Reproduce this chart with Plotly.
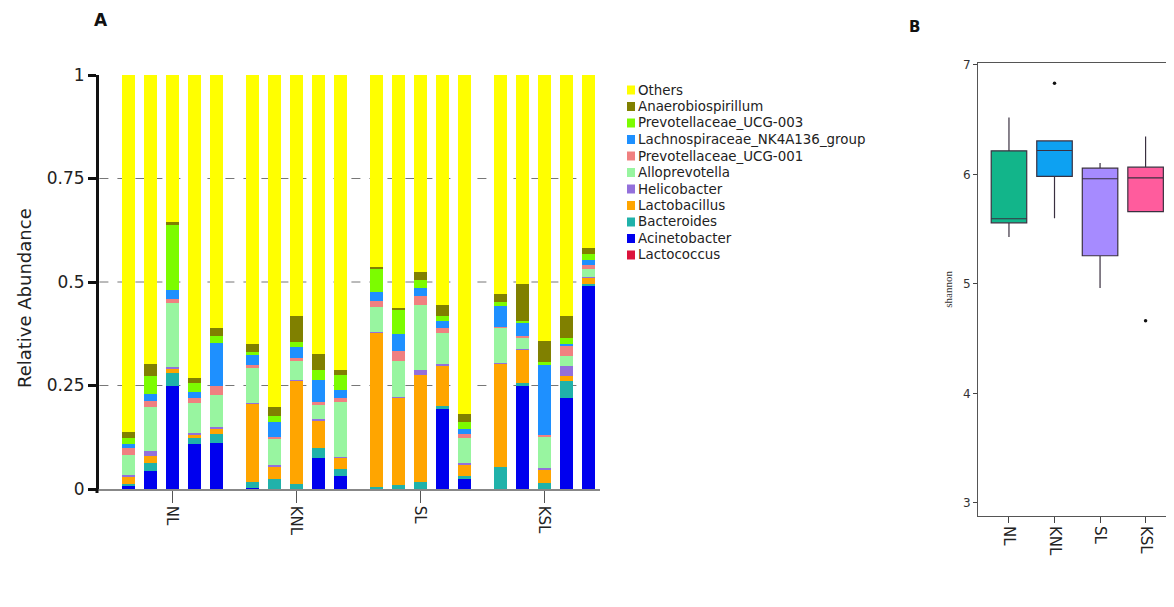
import plotly.graph_objects as go

W, H = 1174, 607

# ---------------- data ----------------
groups = ["NL", "KNL", "SL", "KSL"]
n_per_group = 5

taxa = ["Lactococcus", "Acinetobacter", "Bacteroides", "Lactobacillus", "Helicobacter",
        "Alloprevotella", "Prevotellaceae_UCG-001", "Lachnospiraceae_NK4A136_group",
        "Prevotellaceae_UCG-003", "Anaerobiospirillum", "Others"]

lactococcus = [0.001] * 20
acinetobacter = [0.006, 0.043, 0.248, 0.107, 0.111, 0.002, 0.000, 0.000, 0.075, 0.031,
                 0.000, 0.000, 0.000, 0.192, 0.022, 0.000, 0.248, 0.000, 0.220, 0.490]
bacteroides = [0.006, 0.020, 0.032, 0.016, 0.020, 0.014, 0.022, 0.012, 0.024, 0.016,
               0.003, 0.008, 0.016, 0.008, 0.008, 0.051, 0.008, 0.014, 0.040, 0.005]
lactobacillus = [0.018, 0.016, 0.008, 0.008, 0.012, 0.189, 0.032, 0.248, 0.064, 0.028,
                 0.373, 0.211, 0.259, 0.097, 0.028, 0.250, 0.080, 0.032, 0.012, 0.014]
helicobacter = [0.004, 0.012, 0.005, 0.003, 0.005, 0.002, 0.002, 0.003, 0.005, 0.002,
                0.002, 0.002, 0.012, 0.003, 0.003, 0.002, 0.002, 0.003, 0.024, 0.002]
alloprevotella = [0.048, 0.105, 0.155, 0.072, 0.079, 0.085, 0.064, 0.044, 0.034, 0.133,
                  0.060, 0.088, 0.157, 0.076, 0.060, 0.085, 0.028, 0.076, 0.024, 0.020]
prevotellaceae_ucg001 = [0.016, 0.016, 0.010, 0.012, 0.020, 0.006, 0.004, 0.008, 0.008, 0.010,
                         0.016, 0.024, 0.020, 0.012, 0.012, 0.003, 0.003, 0.004, 0.024, 0.010]
lachnospiraceae = [0.010, 0.016, 0.022, 0.016, 0.105, 0.024, 0.036, 0.028, 0.052, 0.018,
                   0.020, 0.040, 0.020, 0.016, 0.012, 0.049, 0.032, 0.169, 0.005, 0.012]
prevotellaceae_ucg003 = [0.014, 0.044, 0.157, 0.020, 0.016, 0.008, 0.016, 0.012, 0.024, 0.036,
                         0.056, 0.060, 0.020, 0.012, 0.016, 0.011, 0.003, 0.008, 0.015, 0.014]
anaerobiospirillum = [0.014, 0.028, 0.008, 0.012, 0.020, 0.019, 0.020, 0.063, 0.040, 0.012,
                      0.006, 0.003, 0.019, 0.028, 0.020, 0.020, 0.090, 0.051, 0.052, 0.014]
others = [0.863, 0.699, 0.354, 0.733, 0.611, 0.650, 0.803, 0.581, 0.673, 0.713,
          0.463, 0.563, 0.476, 0.555, 0.818, 0.528, 0.505, 0.642, 0.583, 0.418]

series = [lactococcus, acinetobacter, bacteroides, lactobacillus, helicobacter,
          alloprevotella, prevotellaceae_ucg001, lachnospiraceae, prevotellaceae_ucg003,
          anaerobiospirillum, others]

taxa_colors = ["#DC143C", "#0000EE", "#20B2AA", "#FFA500", "#9370DB", "#98F5A0",
               "#F08080", "#1E90FF", "#7CFC00", "#808000", "#FFFF00"]

y_ticks = [0, 0.25, 0.5, 0.75, 1]
y_ticktext = ["0", "0.25", "0.5", "0.75", "1"]
grid_levels = [0.25, 0.5, 0.75]

# shannon box statistics
box_groups = ["NL", "KNL", "SL", "KSL"]
box_q1 = [5.558, 5.981, 5.257, 5.659]
box_median = [5.595, 6.218, 5.960, 5.969]
box_q3 = [6.215, 6.306, 6.057, 6.066]
box_lower = [5.427, 5.600, 4.962, 5.659]
box_upper = [6.520, 6.306, 6.103, 6.346]
outlier_groups = ["KNL", "KSL"]
outlier_values = [6.833, 4.664]
box_colors = ["#12B58A", "#0DA1F2", "#A68BFF", "#FF5C9D"]
shannon_ticks = [3, 4, 5, 6, 7]

# ---------------- layout helpers ----------------
OFF = 8  # page body margin of the html page

def px_x(p):
    return (p - OFF) / W

def px_y(p):
    return 1 - (p - OFF) / H

GROUP_STEP = 5.64
xpos = [g * GROUP_STEP + j for g in range(len(groups)) for j in range(n_per_group)]
group_centers = [g * GROUP_STEP + (n_per_group - 1) / 2 for g in range(len(groups))]

fig = go.Figure()

for name, vals, col in zip(taxa, series, taxa_colors):
    fig.add_trace(go.Bar(
        x=xpos, y=vals, name=name, width=0.59,
        marker=dict(color=col, line=dict(width=0)),
        xaxis="x", yaxis="y", showlegend=False,
    ))

for g, q1, med, q3, lo, up, col in zip(box_groups, box_q1, box_median, box_q3,
                                       box_lower, box_upper, box_colors):
    fig.add_trace(go.Box(
        x=[g], q1=[q1], median=[med], q3=[q3], lowerfence=[lo], upperfence=[up],
        fillcolor=col, line=dict(color="#3a3040", width=1.2), whiskerwidth=0,
        width=0.78, showlegend=False, xaxis="x2", yaxis="y2", hoverinfo="skip",
    ))

fig.add_trace(go.Scatter(
    x=outlier_groups, y=outlier_values, mode="markers",
    marker=dict(color="#111111", size=3.5), showlegend=False,
    xaxis="x2", yaxis="y2",
))

shapes = []
for lv in grid_levels:
    shapes.append(dict(type="line", xref="x", yref="y", x0=-1.3, x1=21.4, y0=lv, y1=lv,
                       line=dict(color="#777777", width=1, dash="dash"), layer="below"))
# small downward extension of the y-axis line below zero
shapes.append(dict(type="line", xref="paper", yref="paper",
                   x0=px_x(97), x1=px_x(97), y0=px_y(489), y1=px_y(493),
                   line=dict(color="#111111", width=3)))

# manual legend (top entry = last stacked series)
annotations = []
LEG_X, LEG_Y0, LEG_STEP, LEG_BW, LEG_BH = 627, 90, 16.5, 8, 9
for i, k in enumerate(reversed(range(len(taxa)))):
    yc = LEG_Y0 + i * LEG_STEP
    shapes.append(dict(type="rect", xref="paper", yref="paper",
                       x0=px_x(LEG_X), x1=px_x(LEG_X + LEG_BW),
                       y0=px_y(yc + LEG_BH / 2), y1=px_y(yc - LEG_BH / 2),
                       fillcolor=taxa_colors[k], line=dict(width=0)))
    annotations.append(dict(text=taxa[k], x=px_x(LEG_X + LEG_BW + 1), y=px_y(yc),
                            xref="paper", yref="paper", xanchor="left", yanchor="middle",
                            showarrow=False, font=dict(size=13.4, color="#222222")))

annotations += [
    dict(text="<b>A</b>", x=px_x(101), y=px_y(20), xref="paper", yref="paper",
         xanchor="center", yanchor="middle",
         showarrow=False, font=dict(size=17, color="#111111")),
    dict(text="<b>B</b>", x=px_x(914), y=px_y(27), xref="paper", yref="paper",
         xanchor="center", yanchor="middle",
         showarrow=False, font=dict(size=15, color="#111111")),
    dict(text="Relative Abundance", x=px_x(24), y=px_y(298), xref="paper", yref="paper",
         xanchor="center", yanchor="middle", textangle=-90,
         showarrow=False, font=dict(size=18, color="#222222")),
]

fig.update_layout(
    width=W, height=H,
    margin=dict(l=0, r=0, t=0, b=0, autoexpand=False),
    paper_bgcolor="white", plot_bgcolor="white",
    font=dict(family="DejaVu Sans", color="#222222"),
    barmode="stack", bargap=0,
    shapes=shapes, annotations=annotations,
    showlegend=False,
    xaxis=dict(domain=[px_x(97), px_x(600)], range=[-1.41, 21.45], automargin=False,
               tickvals=group_centers, ticktext=groups, tickangle=90,
               ticks="outside", ticklen=12, tickcolor="#555555", tickwidth=1,
               showline=True, linecolor="#888888", linewidth=1.5,
               showgrid=False, zeroline=False,
               tickfont=dict(size=15, color="#222222")),
    yaxis=dict(domain=[px_y(489), px_y(75)], range=[0, 1], automargin=False,
               tickvals=y_ticks, ticktext=y_ticktext,
               ticks="outside", ticklen=8, tickwidth=2.5, tickcolor="#111111",
               showline=True, linecolor="#111111", linewidth=3,
               showgrid=False, zeroline=False, anchor="free", position=px_x(97),
               tickfont=dict(size=17, color="#222222")),
    xaxis2=dict(domain=[px_x(978), px_x(1172)], range=[-0.68, 3.58], automargin=False,
                type="category", categoryorder="array", categoryarray=box_groups,
                tickangle=90, ticks="outside", ticklen=6, tickcolor="#444444",
                showline=True, linecolor="#555555", linewidth=1, mirror=True,
                showgrid=False, zeroline=False, anchor="y2",
                tickfont=dict(size=15, color="#222222")),
    yaxis2=dict(domain=[px_y(516), px_y(62.7)], range=[2.88, 7.02], automargin=False,
                tickvals=shannon_ticks, ticks="outside", ticklen=4, tickcolor="#444444",
                showline=True, linecolor="#555555", linewidth=1, mirror=True,
                showgrid=False, zeroline=False, anchor="x2",
                tickfont=dict(size=12, color="#333333"),
                title=dict(text="shannon", font=dict(size=11, family="Liberation Serif",
                                                     color="#333333"), standoff=8)),
)

fig.write_html("out.html")
